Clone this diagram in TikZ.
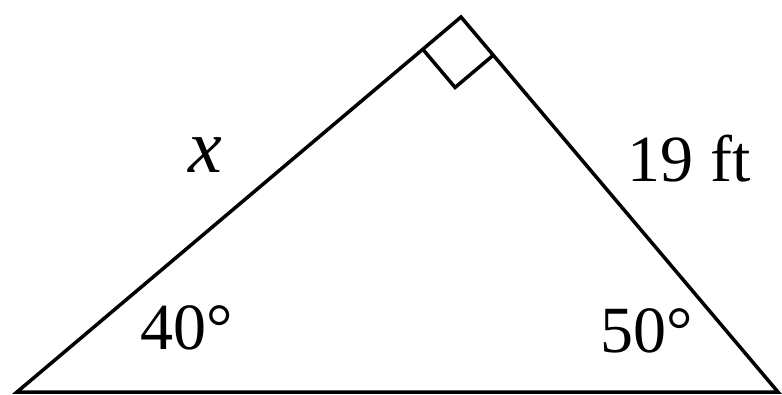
\documentclass[tikz,border=0pt]{standalone}
\usepackage{fontspec}
\setmainfont{Liberation Serif}
\usetikzlibrary{calc}

\tikzset{every picture/.style={line width=3.5pt}}
\tikzset{lbl/.style={inner sep=0pt,font=\fontsize{66}{79}\selectfont}}

\begin{document}
\begin{tikzpicture}[x=1pt,y=1pt,yscale=-1,xscale=1]
\useasboundingbox (0,0) rectangle (782,395);

% Corners
\coordinate (A) at (17,392);
\coordinate (B) at (461,17);
\coordinate (C) at (778,392);

%Shape: Triangle
\draw [line join=miter] (A) -- (B) -- (C) -- cycle;

%Shape: Right angle
\coordinate (ba) at ($(B)!50pt!(A)$);
\coordinate (bc) at ($(B)!50pt!(C)$);
\draw (ba) -- ($(ba)+(bc)-(B)$) -- (bc);

% Text Node
\node [lbl,font=\fontsize{76}{90}\selectfont] (sideX) at (205,155) {\textit{x}};
% Text Node
\node [lbl] (sideR) at (689,159) {19 ft};
% Text Node
\node [lbl] (angA) at (187,328) {40°};
% Text Node
\node [lbl] (angC) at (647,331) {50°};

\end{tikzpicture}
\end{document}
